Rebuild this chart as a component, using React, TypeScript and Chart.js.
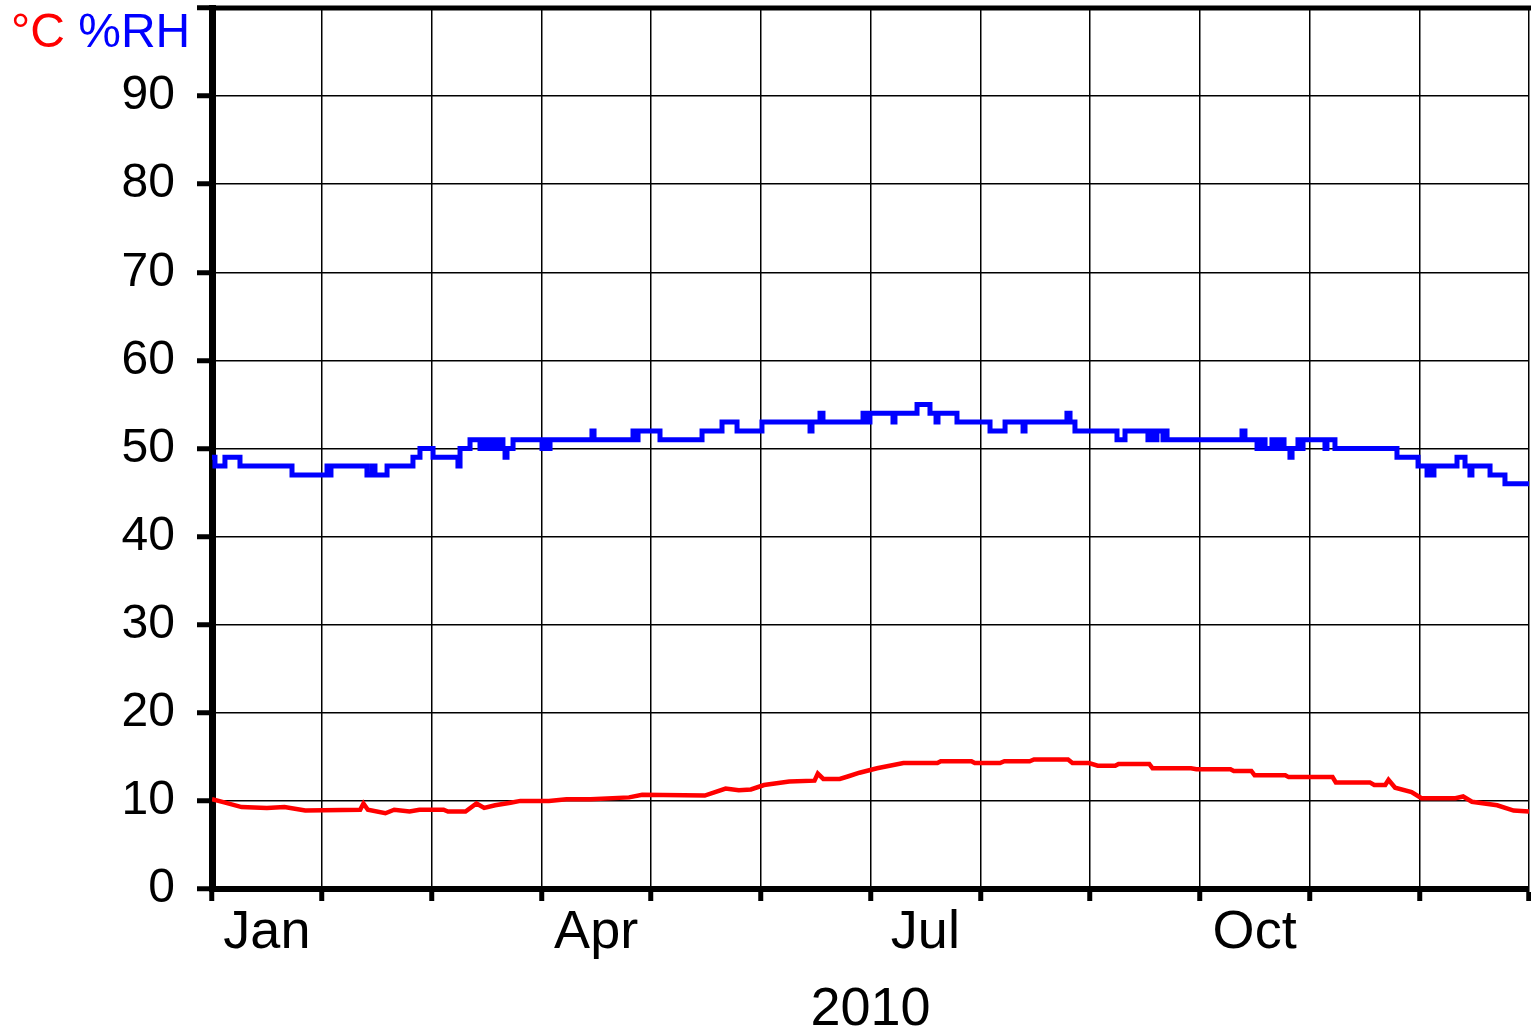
import React, { useEffect, useRef } from 'react';
import { Chart, registerables } from 'chart.js';

Chart.register(...registerables);

// ---- Data ----
// x positions are in months from 1 Jan 2010 (0 = 1 Jan, 12 = 31 Dec)
const monthGridValues = [0, 1, 2, 3, 4, 5, 6, 7, 8, 9, 10, 11, 12];
const monthLabelPositions = [0.5, 3.5, 6.5, 9.5];
const monthLabels = ['Jan', 'Apr', 'Jul', 'Oct'];
const yearLabel = '2010';
const yTickValues = [0, 10, 20, 30, 40, 50, 60, 70, 80, 90, 100];
const unitTemp = '°C';
const unitRH = '%RH';

// Relative humidity (%RH), stepped
const rhX = [
  0, 0.027, 0.118, 0.255, 0.729, 1.048, 1.066, 1.084, 1.412, 1.458, 1.485, 1.595,
  1.831, 1.895, 2.014, 2.241, 2.26, 2.351, 2.442, 2.478, 2.506, 2.551, 2.579, 2.624,
  2.651, 2.67, 2.688, 2.743, 3.007, 3.043, 3.062, 3.08, 3.462, 3.481, 3.836, 3.863,
  3.882, 4.082, 4.465, 4.647, 4.784, 5.011, 5.449, 5.467, 5.54, 5.567, 5.932, 5.959,
  5.995, 6.205, 6.223, 6.424, 6.542, 6.597, 6.615, 6.788, 7.089, 7.226, 7.39, 7.408,
  7.79, 7.818, 7.863, 8.246, 8.319, 8.528, 8.565, 8.592, 8.61, 8.665, 8.683, 8.702,
  9.385, 9.412, 9.522, 9.567, 9.595, 9.658, 9.686, 9.731, 9.768, 9.822, 9.841, 9.895,
  9.913, 9.941, 10.141, 10.159, 10.232, 10.797, 10.989, 11.071, 11.098, 11.116, 11.134,
  11.344, 11.417, 11.462, 11.48, 11.645, 11.781, 12,
];
const rhY = [
  49, 48, 49, 48, 47, 48, 47, 48, 47, 48, 47, 48,
  49, 50, 49, 48, 50, 51, 50, 51, 50, 51, 50, 51,
  50, 49, 50, 51, 50, 51, 50, 51, 52, 51, 52, 51,
  52, 51, 52, 53, 52, 53, 52, 53, 54, 53, 54, 53,
  54, 53, 54, 55, 54, 53, 54, 53, 52, 53, 52, 53,
  54, 53, 52, 51, 52, 51, 52, 51, 52, 51, 52, 51,
  52, 51, 50, 51, 50, 51, 50, 51, 50, 49, 50, 51,
  50, 51, 50, 51, 50, 49, 48, 47, 48, 47, 48,
  49, 48, 47, 48, 47, 46, 46,
];

// Temperature (°C)
const tempX = [
  0, 0.12, 0.27, 0.5, 0.66, 0.85, 1.35, 1.38, 1.42, 1.58, 1.66, 1.8, 1.89, 2.11, 2.15,
  2.31, 2.41, 2.48, 2.58, 2.72, 2.81, 3.07, 3.23, 3.45, 3.8, 3.92, 4.49, 4.68, 4.8, 4.91,
  5.03, 5.26, 5.49, 5.52, 5.57, 5.72, 5.8, 5.9, 6.06, 6.3, 6.61, 6.64, 6.92, 6.95, 7.18,
  7.22, 7.45, 7.49, 7.8, 7.84, 7.99, 8.07, 8.23, 8.26, 8.54, 8.57, 8.92, 8.97, 9.28, 9.31,
  9.47, 9.5, 9.78, 9.81, 10.21, 10.24, 10.55, 10.59, 10.69, 10.72, 10.78, 10.93, 11.02,
  11.33, 11.4, 11.48, 11.71, 11.86, 12,
];
const tempY = [
  10.2, 9.8, 9.3, 9.2, 9.3, 8.9, 9.0, 9.7, 9.0, 8.6, 9.0, 8.8, 9.0, 9.0, 8.8,
  8.8, 9.7, 9.2, 9.5, 9.8, 10.0, 10.0, 10.2, 10.2, 10.4, 10.7, 10.6, 11.4, 11.2, 11.3,
  11.8, 12.2, 12.3, 13.1, 12.5, 12.5, 12.8, 13.2, 13.7, 14.3, 14.3, 14.5, 14.5, 14.3, 14.3,
  14.5, 14.5, 14.7, 14.7, 14.3, 14.3, 14.0, 14.0, 14.2, 14.2, 13.7, 13.7, 13.6, 13.6, 13.4,
  13.4, 12.9, 12.9, 12.7, 12.7, 12.1, 12.1, 11.8, 11.8, 12.4, 11.5, 11.0, 10.3,
  10.3, 10.5, 9.9, 9.5, 8.9, 8.8,
];

const FONT = "'Liberation Sans', Arial, Helvetica, sans-serif";

const framePlugin = {
  id: 'frameAndUnits',
  afterDraw(chart: any) {
    const { ctx, chartArea } = chart;
    ctx.save();
    // top frame line
    ctx.strokeStyle = '#000';
    ctx.lineWidth = 5;
    ctx.beginPath();
    ctx.moveTo(chartArea.left - 3, chartArea.top);
    ctx.lineTo(chart.width, chartArea.top);
    ctx.stroke();
    // unit labels
    ctx.font = `48px ${FONT}`;
    ctx.textBaseline = 'alphabetic';
    ctx.textAlign = 'left';
    const x0 = 11;
    const y0 = 47;
    ctx.fillStyle = '#ff0000';
    ctx.fillText(unitTemp, x0, y0);
    const w = ctx.measureText(unitTemp + ' ').width;
    ctx.fillStyle = '#0000ff';
    ctx.fillText(unitRH, x0 + w, y0);
    ctx.restore();
  },
};

export default function App() {
  const canvasRef = useRef<HTMLCanvasElement | null>(null);

  useEffect(() => {
    document.body.style.margin = '0';
    const canvas = canvasRef.current;
    if (!canvas) return;

    const isGrid = (c: any) => c.tick && Number.isInteger(c.tick.value);

    const chart = new Chart(canvas, {
      type: 'line',
      data: {
        datasets: [
          {
            label: unitRH,
            data: rhX.map((x, i) => ({ x, y: rhY[i] })),
            borderColor: '#0000ff',
            borderWidth: 5,
            pointRadius: 0,
            stepped: 'before',
            fill: false,
          },
          {
            label: unitTemp,
            data: tempX.map((x, i) => ({ x, y: tempY[i] })),
            borderColor: '#ff0000',
            borderWidth: 4.5,
            pointRadius: 0,
            tension: 0,
            fill: false,
          },
        ],
      },
      options: {
        responsive: false,
        animation: false,
        events: [],
        layout: { padding: { left: 0, right: 2, top: 8, bottom: 0 } },
        plugins: {
          legend: { display: false },
          tooltip: { enabled: false },
          title: { display: false },
        },
        scales: {
          x: {
            type: 'linear',
            min: 0,
            max: 12,
            afterBuildTicks: (scale: any) => {
              const vals = [...monthGridValues, ...monthLabelPositions].sort((a, b) => a - b);
              scale.ticks = vals.map((v) => ({ value: v }));
            },
            afterFit: (scale: any) => {
              scale.height = 143;
              scale.paddingLeft = 0;
              scale.paddingRight = 0;
            },
            ticks: {
              autoSkip: false,
              maxRotation: 0,
              minRotation: 0,
              padding: 0,
              color: '#000',
              font: { family: FONT, size: 54 },
              callback: (value: any) => {
                const i = monthLabelPositions.indexOf(Number(value));
                return i >= 0 ? monthLabels[i] : '';
              },
            },
            grid: {
              color: (c: any) => (isGrid(c) ? '#000' : 'rgba(0,0,0,0)'),
              tickColor: (c: any) => (isGrid(c) ? '#000' : 'rgba(0,0,0,0)'),
              lineWidth: 1.5,
              tickWidth: 5,
              tickLength: 12,
            },
            border: { display: true, color: '#000', width: 6 },
            title: {
              display: true,
              text: yearLabel,
              color: '#000',
              font: { family: FONT, size: 54, lineHeight: 0.8 },
              padding: 0,
            },
          },
          y: {
            type: 'linear',
            min: 0,
            max: 100,
            afterBuildTicks: (scale: any) => {
              scale.ticks = yTickValues.map((v) => ({ value: v }));
            },
            afterFit: (scale: any) => {
              scale.width = 212;
              scale.paddingTop = 0;
              scale.paddingBottom = 0;
            },
            ticks: {
              padding: 22,
              color: '#000',
              font: { family: FONT, size: 48 },
              callback: (value: any) => (Number(value) === 100 ? '' : String(value)),
            },
            grid: {
              color: '#000',
              lineWidth: 1.5,
              tickWidth: 5,
              tickLength: 15,
              tickColor: '#000',
            },
            border: { display: true, color: '#000', width: 7 },
          },
        },
      },
      plugins: [framePlugin],
    } as any);

    return () => {
      chart.destroy();
    };
  }, []);

  return (
    <div style={{ width: 1531, height: 1032, background: '#fff' }}>
      <canvas ref={canvasRef} width={1531} height={1032} style={{ display: 'block' }} />
    </div>
  );
}
